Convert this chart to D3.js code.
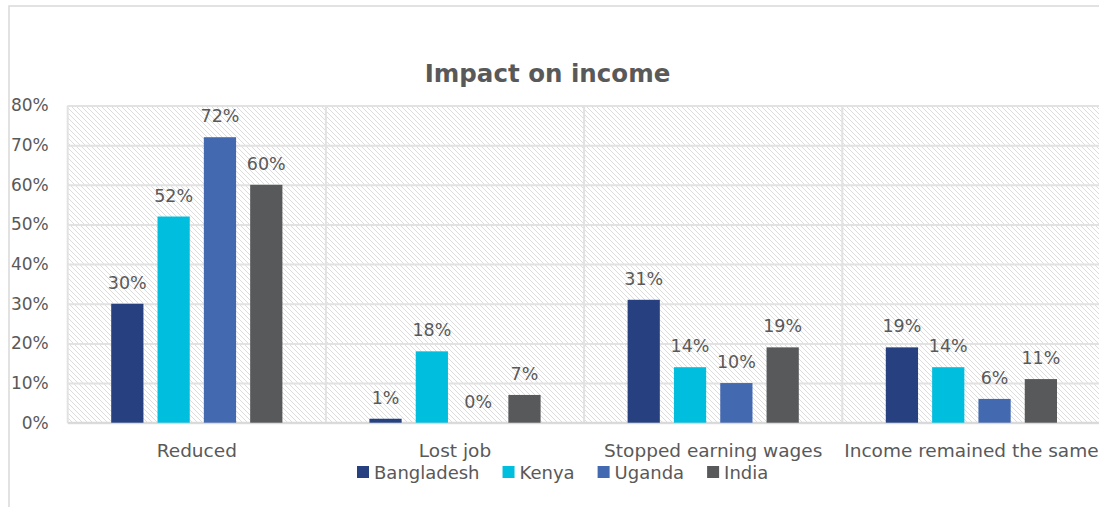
<!DOCTYPE html>
<html>
<head>
<meta charset="utf-8">
<script src="https://cdn.jsdelivr.net/npm/d3@7"></script>
<style>
  html, body { margin: 0; padding: 0; background: #ffffff; }
  svg { display: block; }
  text { font-family: "DejaVu Sans", sans-serif; fill: #595959; }
</style>
</head>
<body>
<div id="chart"></div>
<script>
// Survey results: impact of the crisis on household income, by country (percent)
const categories = ["Reduced", "Lost job", "Stopped earning wages", "Income remained the same"];
const countries = ["Bangladesh", "Kenya", "Uganda", "India"];
const bangladesh = [30, 1, 31, 19];
const kenya = [52, 18, 14, 14];
const uganda = [72, 0, 10, 6];
const india = [60, 7, 19, 11];
const yTicks = [0, 10, 20, 30, 40, 50, 60, 70, 80];
const colors = ["#264080", "#00bfde", "#4369b1", "#58595b"];
const chartTitle = "Impact on income";

const seriesValues = [bangladesh, kenya, uganda, india];

const W = 1099, H = 507;
const plot = { left: 67.7, top: 105.5, bottom: 422.7, right: 1100.5 };

const svg = d3.select("#chart").append("svg")
  .attr("width", W).attr("height", H);

// chart frame
svg.append("rect")
  .attr("x", 9).attr("y", 6)
  .attr("width", W + 20).attr("height", H + 20)
  .attr("fill", "#ffffff")
  .attr("stroke", "#d9d9d9").attr("stroke-width", 1.5);

// diagonal hatch used for the plot background
const defs = svg.append("defs");
const pat = defs.append("pattern")
  .attr("id", "hatch")
  .attr("patternUnits", "userSpaceOnUse")
  .attr("width", 5).attr("height", 5);
pat.append("path")
  .attr("d", "M-1,-1 L6,6 M-1,4 L1,6 M4,-1 L6,1")
  .attr("stroke", "#dcdcdc").attr("stroke-width", 1);

const x0 = d3.scaleBand()
  .domain(categories)
  .range([plot.left, plot.right])
  .padding(0);

const groupPad = 43.5;
const x1 = d3.scaleBand()
  .domain(countries)
  .range([groupPad, x0.bandwidth() - groupPad])
  .paddingInner(0.304);

const y = d3.scaleLinear()
  .domain([0, 80])
  .range([plot.bottom, plot.top]);

// plot background
svg.append("rect")
  .attr("x", plot.left).attr("y", plot.top)
  .attr("width", plot.right - plot.left)
  .attr("height", plot.bottom - plot.top)
  .attr("fill", "url(#hatch)");

// horizontal gridlines
const grid = svg.append("g")
  .attr("transform", `translate(${plot.left},0)`)
  .call(d3.axisLeft(y).tickValues(yTicks).tickSize(-(plot.right - plot.left)).tickFormat(""));
grid.select(".domain").remove();
grid.selectAll(".tick line")
  .attr("stroke", "#e2e2e2").attr("stroke-width", 2);

// vertical category separators
svg.append("g").selectAll("line")
  .data(categories)
  .join("line")
  .attr("x1", d => x0(d)).attr("x2", d => x0(d))
  .attr("y1", plot.top).attr("y2", plot.bottom)
  .attr("stroke", "#e2e2e2").attr("stroke-width", 2);

// baseline
svg.append("line")
  .attr("x1", plot.left).attr("x2", plot.right)
  .attr("y1", y(0)).attr("y2", y(0))
  .attr("stroke", "#d9d9d9").attr("stroke-width", 2);

// y axis labels
const yAxis = svg.append("g")
  .attr("transform", `translate(${plot.left - 19},0)`)
  .call(d3.axisLeft(y).tickValues(yTicks).tickSize(0).tickPadding(0).tickFormat(d => d + "%"));
yAxis.select(".domain").remove();
yAxis.selectAll("text")
  .attr("font-size", "17px")
  .attr("fill", "#595959")
  .style("font-family", "DejaVu Sans, sans-serif");

// category axis labels
const xAxis = svg.append("g")
  .attr("transform", `translate(0,${plot.bottom})`)
  .call(d3.axisBottom(x0).tickSize(0).tickPadding(0));
xAxis.select(".domain").remove();
xAxis.selectAll("text")
  .attr("y", 34).attr("dy", null)
  .attr("font-size", "18.5px")
  .attr("fill", "#595959")
  .style("font-family", "DejaVu Sans, sans-serif");

// bars and value labels
const rows = categories.map((c, i) => ({
  category: c,
  values: countries.map((k, j) => ({ country: k, value: seriesValues[j][i], color: colors[j] }))
}));

const groups = svg.append("g").selectAll("g")
  .data(rows)
  .join("g")
  .attr("transform", d => `translate(${x0(d.category)},0)`);

groups.selectAll("rect")
  .data(d => d.values)
  .join("rect")
  .attr("x", d => x1(d.country))
  .attr("width", x1.bandwidth())
  .attr("y", d => y(d.value))
  .attr("height", d => y(0) - y(d.value))
  .attr("fill", d => d.color);

groups.selectAll("text")
  .data(d => d.values)
  .join("text")
  .attr("x", d => x1(d.country) + x1.bandwidth() / 2)
  .attr("y", d => y(d.value) - 15)
  .attr("text-anchor", "middle")
  .attr("font-size", "17.5px")
  .text(d => d.value + "%");

// title
svg.append("text")
  .attr("x", 547.5).attr("y", 82)
  .attr("text-anchor", "middle")
  .attr("font-size", "24.5px")
  .attr("font-weight", "bold")
  .text(chartTitle);

// legend
const legend = svg.append("g");
let lx = 357;
countries.forEach((name, i) => {
  const item = legend.append("g").attr("transform", `translate(${lx},0)`);
  item.append("rect")
    .attr("x", 0).attr("y", 466)
    .attr("width", 12).attr("height", 12)
    .attr("fill", colors[i]);
  const t = item.append("text")
    .attr("x", 17).attr("y", 479)
    .attr("font-size", "18px")
    .text(name);
  lx += 17 + t.node().getComputedTextLength() + 23;
});
</script>
</body>
</html>
